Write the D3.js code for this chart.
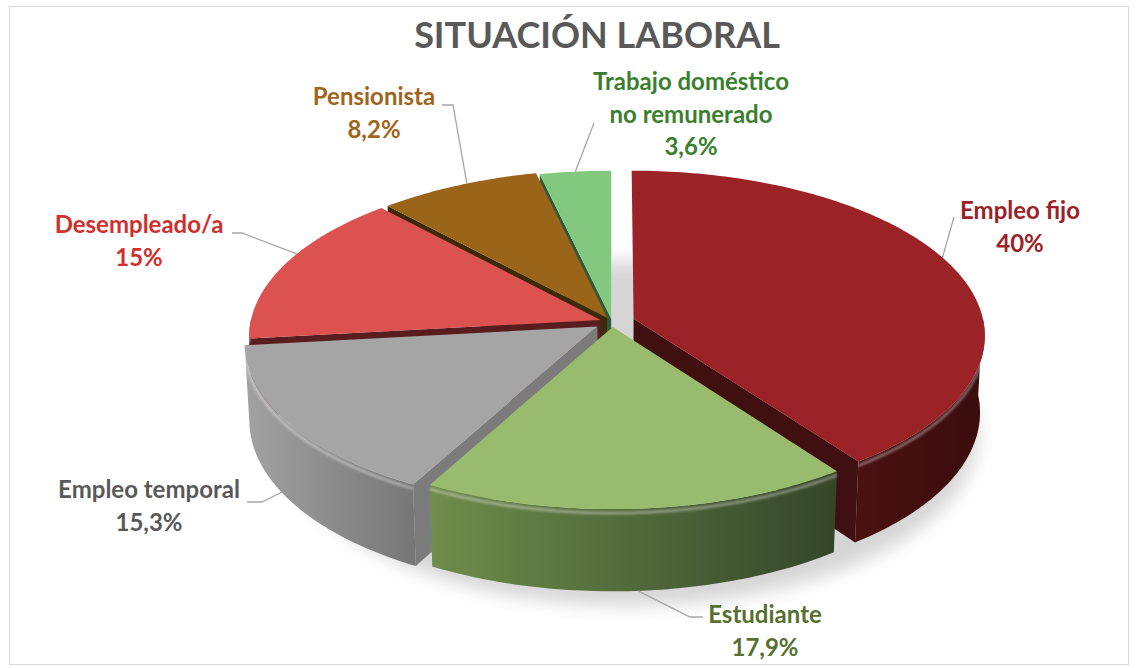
<!DOCTYPE html>
<html>
<head>
<meta charset="utf-8">
<script src="https://cdn.jsdelivr.net/npm/d3@7/dist/d3.min.js"></script>
<style>
  body { margin: 0; background: #fff; }
  text { font-family: Lato, "Noto Sans", sans-serif; font-weight: 700; }
</style>
</head>
<body>
<div id="chart"></div>
<script>
// data (clockwise from 12 o'clock)
var categories = ["Empleo fijo", "Estudiante", "Empleo temporal", "Desempleado/a", "Pensionista", "Trabajo doméstico no remunerado"];
var values = [40, 17.9, 15.3, 15, 8.2, 3.6];
var pctLabels = ["40%", "17,9%", "15,3%", "15%", "8,2%", "3,6%"];
var title = "SITUACIÓN LABORAL";

// colours
var topColors   = ["#9b2226", "#98bb6d", "#a5a5a5", "#dc5251", "#9a6419", "#82c97f"];
var wallLight   = ["#4a1111", "#6f8d4b", "#a2a2a2", "#5e1f1f", "#45300b", "#356238"];
var wallDark    = ["#3a0c0c", "#34452a", "#777777", "#521a1a", "#3b2707", "#2d5331"];
var faceColors  = ["#400f0f", "#3e5230", "#7b7b7b", "#5a1d1f", "#3e2a0a", "#30593a"];
var labelColors = ["#9b2226", "#56702f", "#595959", "#d0302d", "#a0651a", "#3a7f2e"];

var W = 1136, H = 668;
// 3d view: pie of radius 1 in the X/Z plane, seen from above the front
var view = { cx: 612, cy: 322, s: 350, phi: 27.8 * Math.PI / 180, D: 9, h: 0.25 };
var explode = [0.065, 0.03, 0.05, 0.035, 0.03, 0.02];

// label layout: text centre, first baseline, leader points from the label side,
// rim angle (deg) and rim level the leader ends on
var labelLayout = [
    { x: 1020, y: 219, lead: [[954, 217]], ang: 67, level: "top" },
    { x: 765, y: 623, lead: [[703, 617], [690, 617]], ang: null, level: "bottom" },
    { x: 149, y: 498, lead: [[247, 502], [262, 502]], ang: 240, level: "bottom" },
    { x: 139, y: 233, lead: [[232, 233], [242, 233]], ang: 295, level: "top" },
    { x: 374, y: 105, lead: [[442, 105], [453, 105]], ang: 334, level: "top" },
    { x: 691, y: 90, lead: [[594, 123]], ang: null, level: "top" }
];
var labelLines = [
    ["Empleo fijo"], ["Estudiante"], ["Empleo temporal"], ["Desempleado/a"],
    ["Pensionista"], ["Trabajo doméstico", "no remunerado"]
];

var svg = d3.select("#chart").append("svg")
    .attr("width", W).attr("height", H);

svg.append("rect")
    .attr("x", 9.5).attr("y", 6.5).attr("width", 1119).attr("height", 658)
    .attr("fill", "#fff").attr("stroke", "#d9d9d9");

var defs = svg.append("defs");
defs.append("filter").attr("id", "blur").attr("x", "-20%").attr("y", "-20%")
    .attr("width", "140%").attr("height", "140%")
    .append("feGaussianBlur").attr("stdDeviation", 9);
defs.append("filter").attr("id", "soft")
    .append("feGaussianBlur").attr("stdDeviation", 1.2);

function proj(X, Y, Z) {
    var c = Math.cos(view.phi), s = Math.sin(view.phi);
    var yUp = Y * c - Z * s;
    var zc = Z * c + Y * s;
    var k = view.D / (view.D - zc);
    return [view.cx + view.s * X * k, view.cy - view.s * yUp * k];
}
function rim(a, Y, off) {
    return proj(off[0] + Math.sin(a), Y, off[1] - Math.cos(a));
}
function arcPts(a0, a1, Y, off) {
    var n = Math.max(2, Math.ceil((a1 - a0) / (Math.PI / 180)));
    return d3.range(n + 1).map(function (i) { return rim(a0 + (a1 - a0) * i / n, Y, off); });
}

var line = d3.line();
var arcs = d3.pie().sort(null).value(function (d) { return d; })(values);
var bottomY = -view.h;

// soft shadow under the pie
var shadowPts = arcPts(0, 2 * Math.PI, bottomY, [0.03, 0.06]);
svg.append("path")
    .attr("d", line(shadowPts) + "Z")
    .attr("fill", "#000").attr("opacity", 0.16)
    .attr("transform", "translate(6,8)")
    .attr("filter", "url(#blur)");

arcs.forEach(function (d, i) {
    var mid = (d.startAngle + d.endAngle) / 2;
    d.index = i;
    d.mid = mid;
    d.off = [explode[i] * Math.sin(mid), -explode[i] * Math.cos(mid)];
    d.depth = -Math.cos(mid);
});

var order = arcs.slice().sort(function (a, b) { return a.depth - b.depth; });
var slices = svg.append("g");

order.forEach(function (d) {
    var i = d.index, off = d.off;
    var g = slices.append("g").attr("class", "slice");
    var cTop = proj(off[0], 0, off[1]);
    var cBot = proj(off[0], bottomY, off[1]);

    // cut faces turned to the viewer
    [[d.startAngle, Math.sin(d.startAngle) < -1e-6], [d.endAngle, Math.sin(d.endAngle) > 1e-6]]
        .forEach(function (f) {
            if (!f[1]) return;
            var pts = [cTop, rim(f[0], 0, off), rim(f[0], bottomY, off), cBot];
            g.append("path").attr("d", line(pts) + "Z")
                .attr("fill", faceColors[i]);
        });

    // outer wall, front half only
    var a0 = Math.max(d.startAngle, Math.PI / 2), a1 = Math.min(d.endAngle, 3 * Math.PI / 2);
    if (a0 < a1) {
        var topArc = arcPts(a0, a1, 0, off);
        var botArc = arcPts(a0, a1, bottomY, off);
        var xs = topArc.map(function (p) { return p[0]; });
        var gid = "wall" + i;
        var grad = defs.append("linearGradient").attr("id", gid)
            .attr("gradientUnits", "userSpaceOnUse")
            .attr("x1", d3.min(xs)).attr("x2", d3.max(xs)).attr("y1", 0).attr("y2", 0);
        grad.append("stop").attr("offset", 0).attr("stop-color", wallLight[i]);
        grad.append("stop").attr("offset", 1).attr("stop-color", wallDark[i]);
        g.append("path")
            .attr("d", line(topArc.concat(botArc.reverse())) + "Z")
            .attr("fill", "url(#" + gid + ")");
        // rounded bevel highlight on the rim
        g.append("path")
            .attr("d", line(arcPts(a0, a1, -0.012, off)))
            .attr("fill", "none").attr("stroke", "#fff")
            .attr("stroke-opacity", 0.35).attr("stroke-width", 3)
            .attr("filter", "url(#soft)");
    }

    // top
    var top = [cTop].concat(arcPts(d.startAngle, d.endAngle, 0, off));
    g.append("path").attr("d", line(top) + "Z").attr("fill", topColors[i]);
});

// title
svg.append("text")
    .attr("x", 597).attr("y", 48)
    .attr("text-anchor", "middle")
    .attr("font-size", 36)
    .attr("fill", "#595959")
    .text(title);

// labels and leader lines
arcs.forEach(function (d, i) {
    var L = labelLayout[i];
    var a = (L.ang === null ? d.mid : L.ang * Math.PI / 180);
    var end = rim(a, L.level === "top" ? 0 : bottomY, d.off);
    svg.append("path")
        .attr("d", line(L.lead.concat([end])))
        .attr("fill", "none").attr("stroke", "#a6a6a6").attr("stroke-width", 1.3);

    var t = svg.append("text")
        .attr("text-anchor", "middle")
        .attr("font-size", 24)
        .attr("fill", labelColors[i]);
    var rows = labelLines[i].concat([pctLabels[i]]);
    rows.forEach(function (r, j) {
        t.append("tspan").attr("x", L.x).attr("y", L.y + j * 32.5).text(r);
    });
});
</script>
</body>
</html>
